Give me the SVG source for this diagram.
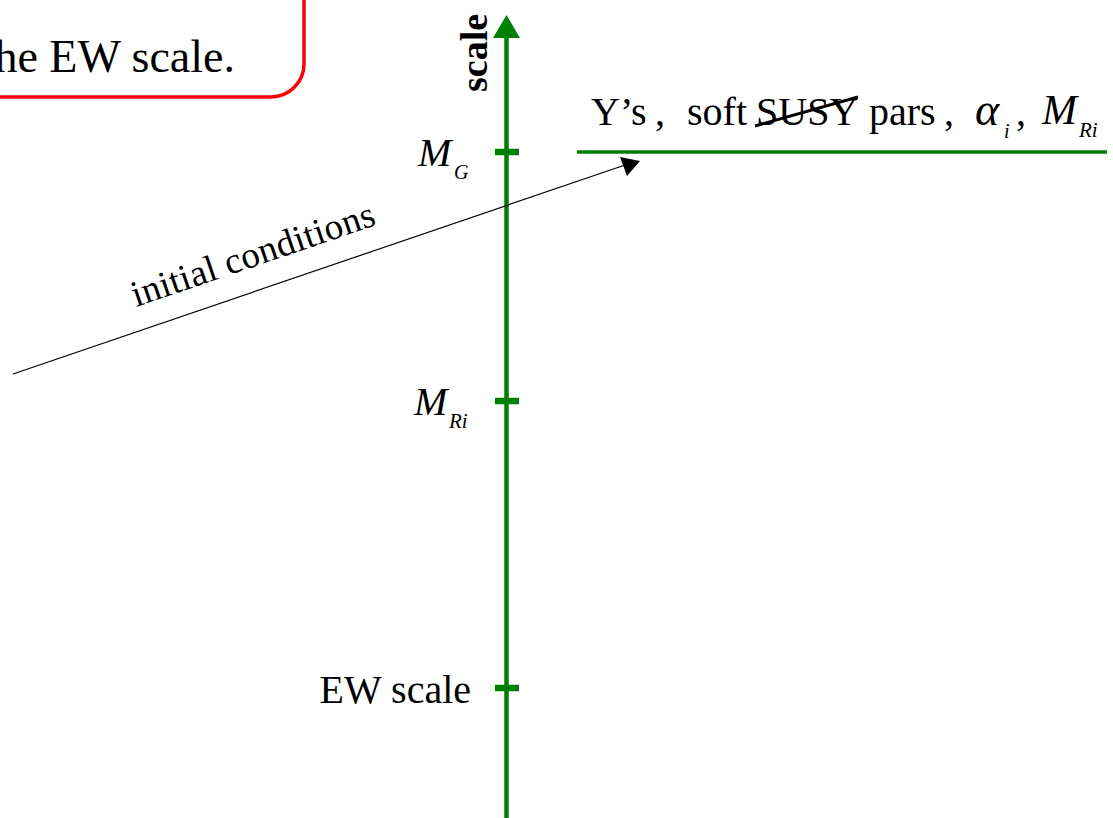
<svg xmlns="http://www.w3.org/2000/svg" width="1113" height="818" viewBox="0 0 1113 818">
  <style>
    .serif { font-family: "Liberation Serif", "Times New Roman", serif; fill: #000; }
    .ital { font-style: italic; }
    .green { stroke: #008000; fill: none; }
  </style>
  <rect x="0" y="0" width="1113" height="818" fill="#fff"/>

  <g id="note-box">
    <rect x="-40" y="-40" width="344" height="137" rx="33" ry="33" fill="#fff" stroke="#ff0000" stroke-width="3.5"/>
    <text class="serif" x="235" y="72" font-size="46" text-anchor="end">he EW scale.</text>
  </g>

  <g id="scale-axis">
    <line class="green" x1="506.5" y1="818" x2="506.5" y2="36" stroke-width="4.5"/>
    <polygon points="506.5,15 493,38 520,38" fill="#008000"/>
    <text class="serif" font-weight="bold" font-size="38" transform="translate(487,92) rotate(-90)">scale</text>
  </g>

  <g id="tick-MG">
    <line class="green" x1="495" y1="152" x2="519" y2="152" stroke-width="6.5"/>
    <text class="serif ital" x="418" y="166" font-size="40">M</text>
    <text class="serif ital" x="454" y="179" font-size="20">G</text>
  </g>

  <g id="tick-MRi">
    <line class="green" x1="495" y1="401" x2="519" y2="401" stroke-width="6.5"/>
    <text class="serif ital" x="414" y="415" font-size="40">M</text>
    <text class="serif ital" x="449" y="428" font-size="21">Ri</text>
  </g>

  <g id="tick-EW">
    <line class="green" x1="495" y1="688" x2="519" y2="688" stroke-width="6.5"/>
    <text class="serif" x="471" y="703" font-size="40" text-anchor="end">EW scale</text>
  </g>

  <g id="boundary-line">
    <line class="green" x1="577" y1="152" x2="1107" y2="152" stroke-width="3.5"/>
    <text class="serif" font-size="40" y="125"><tspan x="591">Y’s</tspan><tspan x="655">,</tspan><tspan x="687">soft</tspan><tspan x="756">SUSY</tspan><tspan x="869">pars</tspan><tspan x="944">,</tspan></text>
    <line x1="755" y1="126" x2="858" y2="97" stroke="#000" stroke-width="3"/>
    <text class="serif ital" x="975" y="125" font-size="46">α</text>
    <text class="serif ital" x="1004" y="138" font-size="20">i</text>
    <text class="serif" x="1016" y="125" font-size="40">,</text>
    <text class="serif ital" x="1042" y="124" font-size="42">M</text>
    <text class="serif ital" x="1079" y="137" font-size="21">Ri</text>
  </g>

  <g id="connectors">
    <line x1="13" y1="374" x2="628" y2="164" stroke="#000" stroke-width="1.2"/>
    <polygon points="640,161 620,157 627,176" fill="#000"/>
    <text class="serif" font-size="37" textLength="255" lengthAdjust="spacing" transform="translate(136,307) rotate(-18.85)">initial conditions</text>
  </g>
</svg>
